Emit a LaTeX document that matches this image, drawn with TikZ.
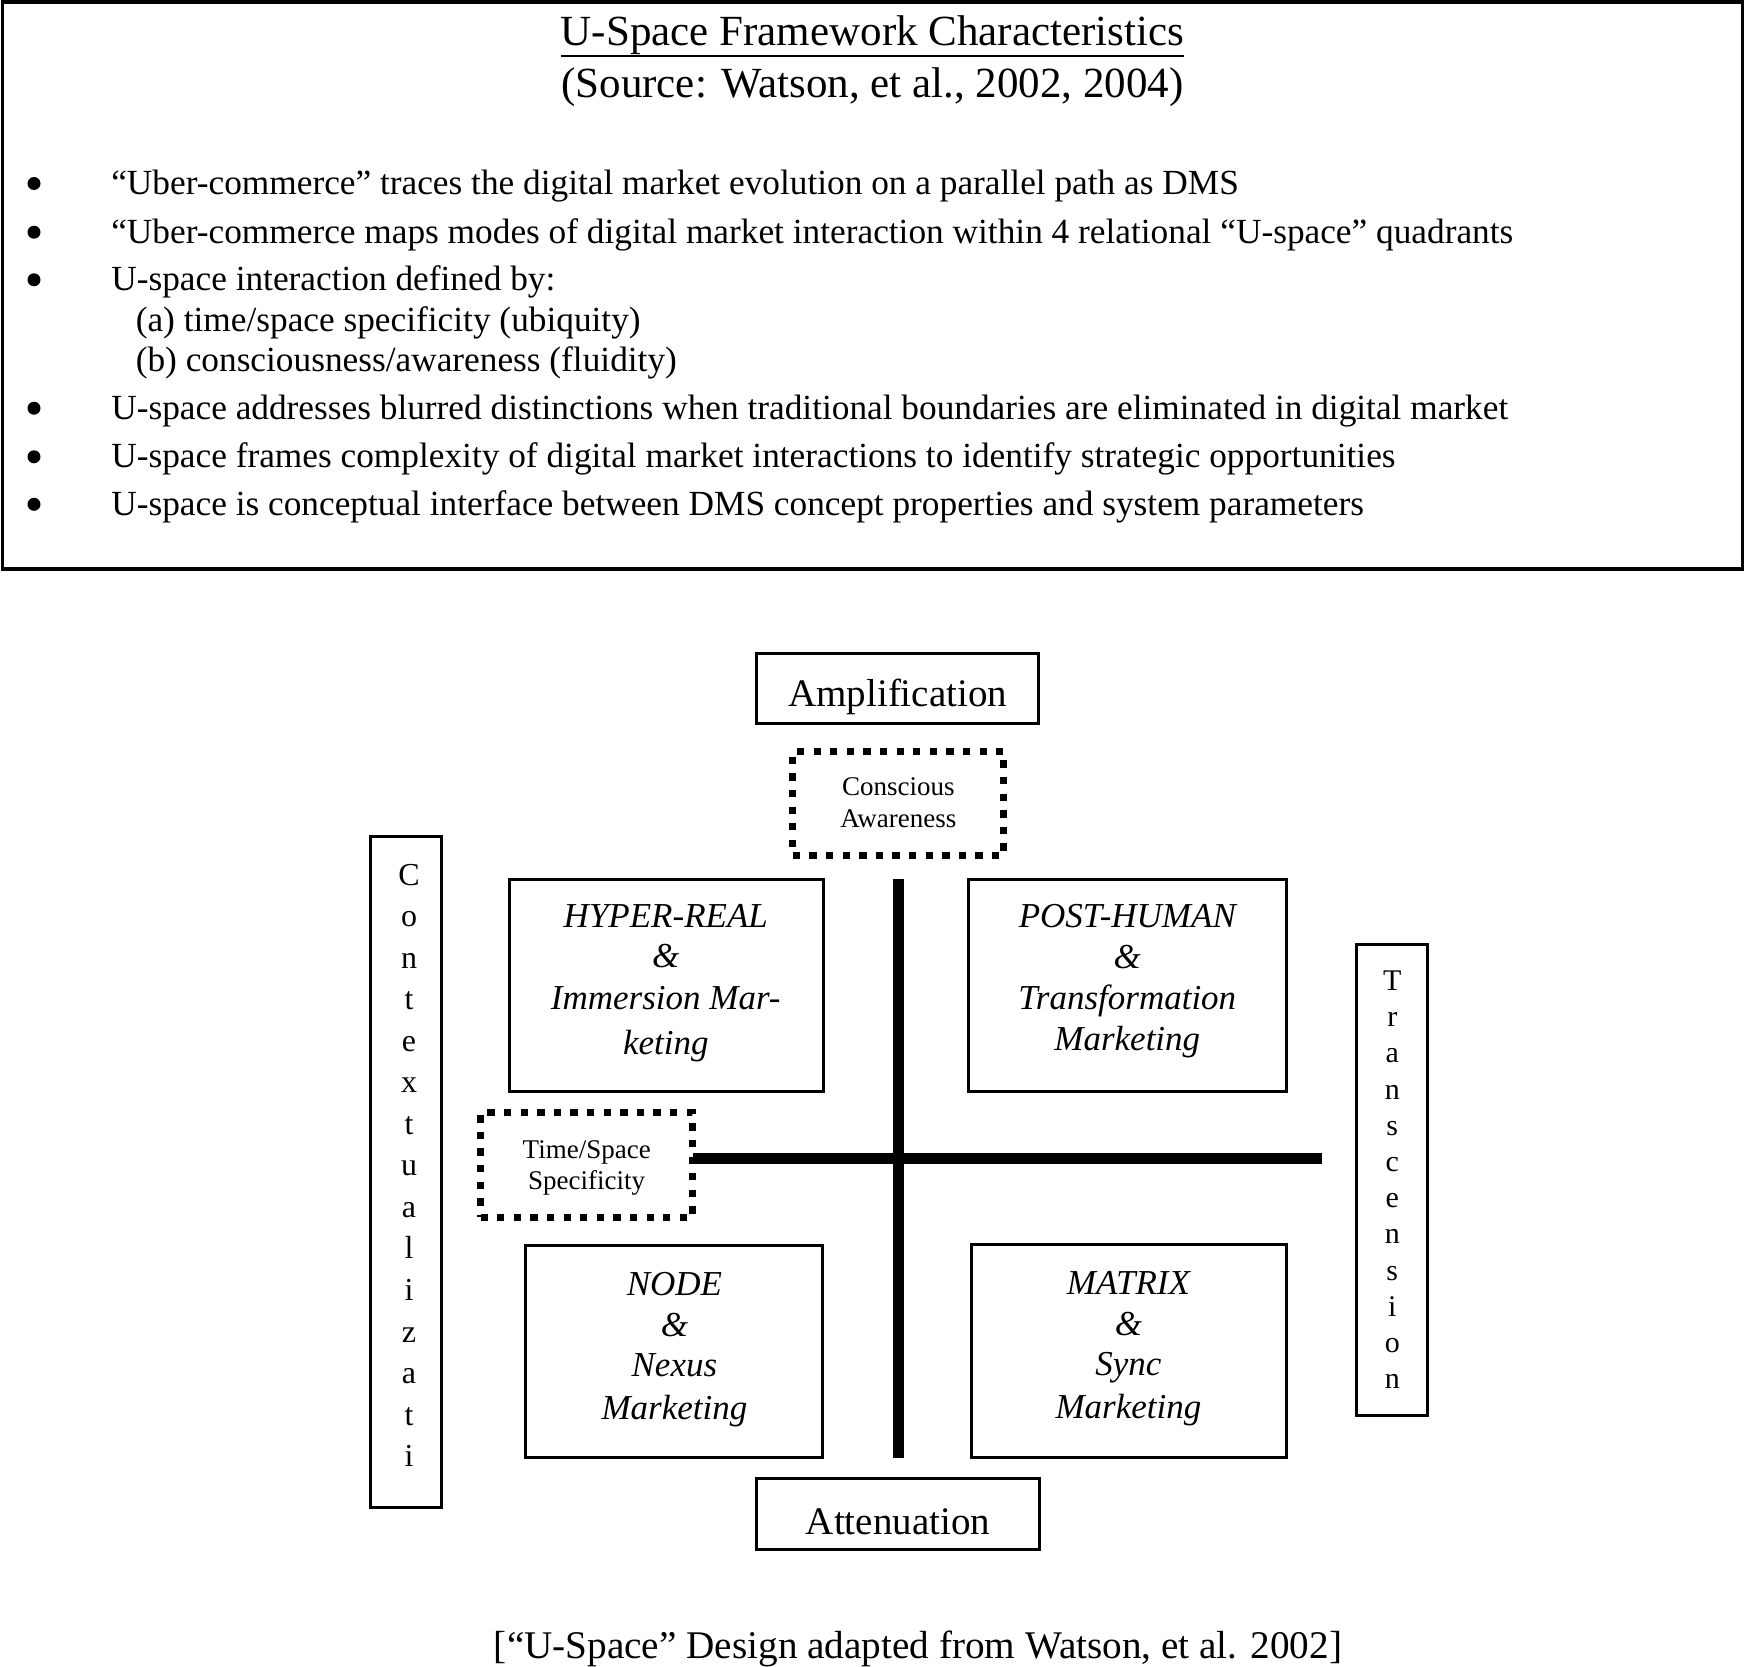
\documentclass[tikz,border=0pt]{standalone}
\usepackage{fontspec}
\setmainfont{Liberation Serif}
\newcommand\myfs[1]{\fontsize{#1pt}{#1pt}\selectfont}
\tikzset{
  txt/.style={anchor=base, inner sep=0pt, outer sep=0pt},
  bul/.style={anchor=base west, inner sep=0pt, outer sep=0pt, font=\myfs{35.3}},
  bdot/.style={circle, fill=black, draw=none, inner sep=0pt, minimum size=13pt},
  frame/.style={draw, line width=3.5pt, inner sep=0pt, outer sep=0pt},
  boxq/.style={draw, line width=3pt, inner sep=0pt, outer sep=0pt},
  dotbox/.style={draw, line width=7.3pt, dash pattern=on 7.3pt off 9.3pt, inner sep=0pt, outer sep=0pt},
  axis/.style={line width=11pt, line cap=butt},
  quad/.style={txt, font=\myfs{35}\itshape},
  lab/.style={txt, font=\myfs{39}},
  small/.style={txt, font=\myfs{27}},
  vlet/.style={txt, font=\myfs{32}},
  tlet/.style={txt, font=\myfs{30}}
}
\begin{document}
\begin{tikzpicture}[x=1pt,y=-1pt]
\useasboundingbox (0,0) rectangle (1745,1667);
\fill[white] (0,0) rectangle (1745,1667);

% top frame
\node[frame, minimum width=1740pt, minimum height=567pt] (top) at (872.5,285.3) {};
\node[txt, font=\myfs{43}] (title) at (872.5,45.5) {U-Space Framework Characteristics};
\draw[line width=2.5pt] ([yshift=-1.5pt]title.south west) -- ([yshift=-1.5pt]title.south east);
\node[txt, font=\myfs{43}] (source) at (872.5,97.5) {(Source: Watson, et al., 2002, 2004)};

% bullets
\node[bdot] (d1) at (34,183.5) {};
\node[bul] (l1) at (111.3,194.5) {“Uber-commerce” traces the digital market evolution on a parallel path as DMS};
\node[bdot] (d2) at (34,232.2) {};
\node[bul] (l2) at (111.3,243.2) {“Uber-commerce maps modes of digital market interaction within 4 relational “U-space” quadrants};
\node[bdot] (d3) at (34,279.8) {};
\node[bul] (l3) at (111.3,290.8) {U-space interaction defined by:};
\node[bul] (l3a) at (135.8,331.7) {(a) time/space specificity (ubiquity)};
\node[bul] (l3b) at (135.8,371.6) {(b) consciousness/awareness (fluidity)};
\node[bdot] (d4) at (34,408.2) {};
\node[bul] (l4) at (111.3,419.2) {U-space addresses blurred distinctions when traditional boundaries are eliminated in digital market};
\node[bdot] (d5) at (34,456.8) {};
\node[bul] (l5) at (111.3,467.8) {U-space frames complexity of digital market interactions to identify strategic opportunities};
\node[bdot] (d6) at (34,504.3) {};
\node[bul] (l6) at (111.3,515.3) {U-space is conceptual interface between DMS concept properties and system parameters};

% diagram boxes
\node[boxq, minimum width=282pt, minimum height=70.6pt] (amp) at (897.7,688.5) {};
\node[lab] (ampt) at (897.7,706) {Amplification};
\node[boxq, minimum width=282.6pt, minimum height=70.1pt] (att) at (898,1513.95) {};
\node[lab] (attt) at (898,1534) {Attenuation};

\node[dotbox, minimum width=211pt, minimum height=104pt] (ca) at (898.3,803.5) {};
\node[small] (ca1) at (898.3,795.5) {Conscious};
\node[small] (ca2) at (898.3,827.5) {Awareness};

\node[dotbox, minimum width=212.2pt, minimum height=104.4pt] (ts) at (586.6,1165) {};
\node[small] (ts1) at (586.7,1158) {Time/Space};
\node[small] (ts2) at (586.7,1189.5) {Specificity};

% axes
\coordinate (vtop) at (898.3,879);
\coordinate (vbot) at (898.3,1457.8);
\coordinate (hend) at (1322,1158.7);
\draw[axis] (vtop) -- (vbot);
\draw[axis] (ts.east |- hend) -- (hend);

% quadrants
\node[boxq, minimum width=313.5pt, minimum height=212.7pt] (hyper) at (666.25,985.35) {};
\node[quad] (h1) at (665.8,927) {HYPER-REAL};
\node[quad] (h2) at (665.8,967.7) {\&};
\node[quad] (h3) at (665.8,1009.3) {Immersion Mar-};
\node[quad] (h4) at (665.8,1054) {keting};

\node[boxq, minimum width=318.3pt, minimum height=212.7pt] (post) at (1127.25,985.35) {};
\node[quad] (p1) at (1127.3,927) {POST-HUMAN};
\node[quad] (p2) at (1127.3,968) {\&};
\node[quad] (p3) at (1127.3,1009) {Transformation};
\node[quad] (p4) at (1127.3,1050.5) {Marketing};

\node[boxq, minimum width=297pt, minimum height=212.5pt] (nodeq) at (674,1351.55) {};
\node[quad] (n1) at (674.4,1295.5) {NODE};
\node[quad] (n2) at (674.4,1336) {\&};
\node[quad] (n3) at (674.4,1376.5) {Nexus};
\node[quad] (n4) at (674.4,1419.3) {Marketing};

\node[boxq, minimum width=314.9pt, minimum height=213.7pt] (matrix) at (1128.95,1350.95) {};
\node[quad] (m1) at (1128.4,1294.5) {MATRIX};
\node[quad] (m2) at (1128.4,1335) {\&};
\node[quad] (m3) at (1128.4,1375.5) {Sync};
\node[quad] (m4) at (1128.4,1418.3) {Marketing};

% side boxes
\node[boxq, minimum width=71.3pt, minimum height=671pt] (ctx) at (406.15,1172.3) {};
\foreach \l [count=\i] in {C,o,n,t,e,x,t,u,a,l,i,z,a,t,i}
  \node[vlet] (c\i) at (409,{885+41.55*(\i-1)}) {\l};

\node[boxq, minimum width=70.8pt, minimum height=471pt] (trn) at (1392.1,1179.5) {};
\foreach \l [count=\i] in {T,r,a,n,s,c,e,n,s,i,o,n}
  \node[tlet] (t\i) at (1392.3,{990.5+36.2*(\i-1)}) {\l};

% caption
\node[txt, font=\myfs{39.2}] (cap) at (918,1658.5) {[“U-Space” Design adapted from Watson, et al. 2002]};
\end{tikzpicture}
\end{document}
